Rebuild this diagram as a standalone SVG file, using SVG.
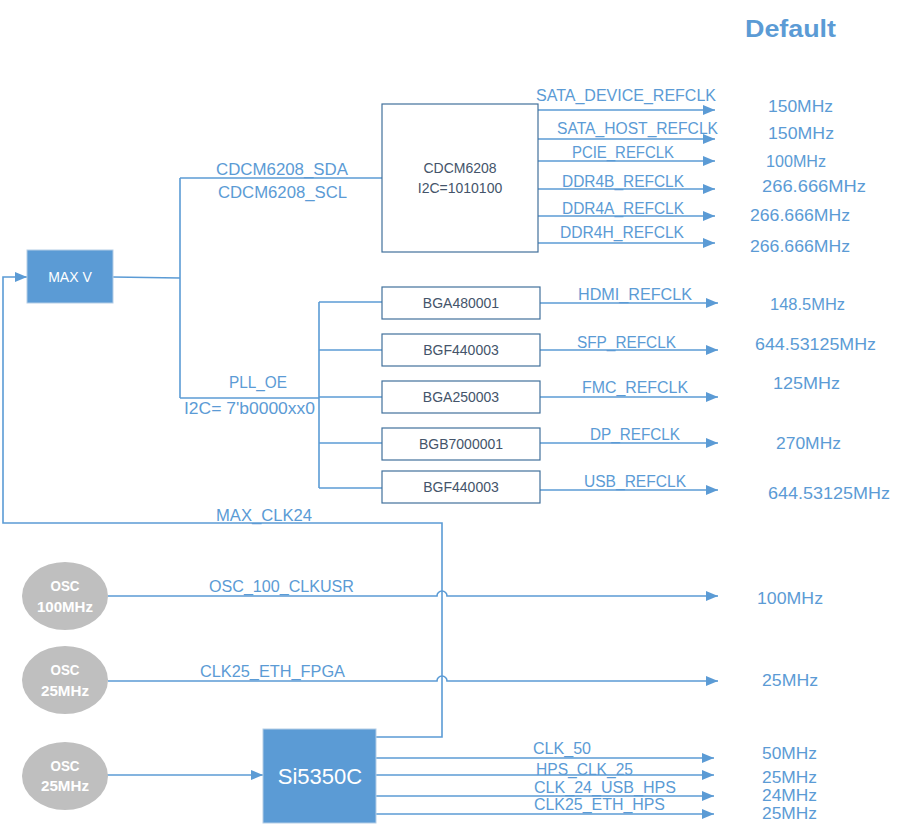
<svg xmlns="http://www.w3.org/2000/svg" width="902" height="836" viewBox="0 0 902 836">
<style>
.c{fill:none;stroke:#5B9BD5;stroke-width:1.6}
.box{fill:#fff;stroke:#41719C;stroke-width:1.2}
.fbox{fill:#5B9BD5;stroke:#B4CDE6;stroke-width:1}
.lbl{font-family:"Liberation Sans",Arial,sans-serif;font-size:16px;fill:#5B9BD5}
.frq{font-family:"Liberation Sans",Arial,sans-serif;font-size:16px;fill:#5B9BD5}
.bt{font-family:"Liberation Sans",Arial,sans-serif;font-size:14px;fill:#44546A;text-anchor:middle}
.wt{font-family:"Liberation Sans",Arial,sans-serif;fill:#fff;text-anchor:middle}
.ot{font-family:"Liberation Sans",Arial,sans-serif;font-size:15px;font-weight:bold;fill:#fff;text-anchor:middle}
</style>
<defs>
<marker id="ah" markerUnits="userSpaceOnUse" markerWidth="13" markerHeight="11" refX="12" refY="5" orient="auto">
<path d="M0,0 L12,5 L0,10 z" fill="#5B9BD5"/>
</marker>
</defs>
<rect width="902" height="836" fill="#fff"/>
<text x="745" y="37" font-family="Liberation Sans,Arial,sans-serif" font-size="24" font-weight="bold" fill="#5B9BD5" textLength="91" lengthAdjust="spacingAndGlyphs">Default</text>

<g id="connectors">
<path class="c" d="M113,277 L180,278"/>
<path class="c" d="M180,178 L180,398"/>
<path class="c" d="M180,178 L382,178"/>
<path class="c" d="M180,398 L319,398"/>
<path class="c" d="M319,302 L319,488"/>
<path class="c" d="M319,302 L382,302"/>
<path class="c" d="M319,350 L382,350"/>
<path class="c" d="M319,397 L382,397"/>
<path class="c" d="M319,443 L382,443"/>
<path class="c" d="M319,488 L382,488"/>
<path class="c" marker-end="url(#ah)" d="M538,110 L715,110"/>
<path class="c" marker-end="url(#ah)" d="M538,139 L715,139"/>
<path class="c" marker-end="url(#ah)" d="M538,161 L715,161"/>
<path class="c" marker-end="url(#ah)" d="M538,189 L715,189"/>
<path class="c" marker-end="url(#ah)" d="M538,216 L715,216"/>
<path class="c" marker-end="url(#ah)" d="M538,243 L715,243"/>
<path class="c" marker-end="url(#ah)" d="M540,303 L718,303"/>
<path class="c" marker-end="url(#ah)" d="M540,350 L718,350"/>
<path class="c" marker-end="url(#ah)" d="M540,397 L718,397"/>
<path class="c" marker-end="url(#ah)" d="M540,443 L718,443"/>
<path class="c" marker-end="url(#ah)" d="M540,490 L718,490"/>
<path class="c" marker-end="url(#ah)" d="M376,737 L442,737 L442,523 L3,523 L3,277 L27,277"/>
<path class="c" marker-end="url(#ah)" d="M108,596 L437,596 A5,5 0 0 1 447,596 L718,596"/>
<path class="c" marker-end="url(#ah)" d="M108,681 L437,681 A5,5 0 0 1 447,681 L718,681"/>
<path class="c" marker-end="url(#ah)" d="M107,775 L263,775"/>
<path class="c" marker-end="url(#ah)" d="M376,758 L714,758"/>
<path class="c" marker-end="url(#ah)" d="M376,775 L714,775"/>
<path class="c" marker-end="url(#ah)" d="M376,796 L714,796"/>
<path class="c" marker-end="url(#ah)" d="M376,814 L714,814"/>
</g>

<g id="labels">
<text class="lbl" x="216" y="175" textLength="132" lengthAdjust="spacingAndGlyphs">CDCM6208_SDA</text>
<text class="lbl" x="218" y="198" textLength="129" lengthAdjust="spacingAndGlyphs">CDCM6208_SCL</text>
<text class="lbl" x="229" y="388" textLength="58" lengthAdjust="spacingAndGlyphs">PLL_OE</text>
<text class="lbl" x="184" y="414" textLength="131" lengthAdjust="spacingAndGlyphs">I2C= 7'b0000xx0</text>
<text class="lbl" x="536" y="101" textLength="180" lengthAdjust="spacingAndGlyphs">SATA_DEVICE_REFCLK</text>
<text class="lbl" x="557" y="134" textLength="161" lengthAdjust="spacingAndGlyphs">SATA_HOST_REFCLK</text>
<text class="lbl" x="572" y="158" textLength="102" lengthAdjust="spacingAndGlyphs">PCIE_REFCLK</text>
<text class="lbl" x="562" y="187" textLength="122" lengthAdjust="spacingAndGlyphs">DDR4B_REFCLK</text>
<text class="lbl" x="562" y="214" textLength="122" lengthAdjust="spacingAndGlyphs">DDR4A_REFCLK</text>
<text class="lbl" x="560" y="238" textLength="124" lengthAdjust="spacingAndGlyphs">DDR4H_REFCLK</text>
<text class="lbl" x="578" y="300" textLength="114" lengthAdjust="spacingAndGlyphs">HDMI_REFCLK</text>
<text class="lbl" x="577" y="348" textLength="99" lengthAdjust="spacingAndGlyphs">SFP_REFCLK</text>
<text class="lbl" x="582" y="393" textLength="106" lengthAdjust="spacingAndGlyphs">FMC_REFCLK</text>
<text class="lbl" x="590" y="440" textLength="90" lengthAdjust="spacingAndGlyphs">DP_REFCLK</text>
<text class="lbl" x="584" y="487" textLength="102" lengthAdjust="spacingAndGlyphs">USB_REFCLK</text>
<text class="lbl" x="216" y="521" textLength="96" lengthAdjust="spacingAndGlyphs">MAX_CLK24</text>
<text class="lbl" x="209" y="592" textLength="145" lengthAdjust="spacingAndGlyphs">OSC_100_CLKUSR</text>
<text class="lbl" x="200" y="677" textLength="145" lengthAdjust="spacingAndGlyphs">CLK25_ETH_FPGA</text>
<text class="lbl" x="533" y="754" textLength="58" lengthAdjust="spacingAndGlyphs">CLK_50</text>
<text class="lbl" x="536" y="775" textLength="97" lengthAdjust="spacingAndGlyphs">HPS_CLK_25</text>
<text class="lbl" x="534" y="793" textLength="142" lengthAdjust="spacingAndGlyphs">CLK_24_USB_HPS</text>
<text class="lbl" x="534" y="810" textLength="131" lengthAdjust="spacingAndGlyphs">CLK25_ETH_HPS</text>

<text class="frq" x="768" y="112" textLength="65" lengthAdjust="spacingAndGlyphs">150MHz</text>
<text class="frq" x="768" y="139" textLength="66" lengthAdjust="spacingAndGlyphs">150MHz</text>
<text class="frq" x="766" y="167" textLength="60" lengthAdjust="spacingAndGlyphs">100MHz</text>
<text class="frq" x="762" y="192" textLength="104" lengthAdjust="spacingAndGlyphs">266.666MHz</text>
<text class="frq" x="750" y="221" textLength="100" lengthAdjust="spacingAndGlyphs">266.666MHz</text>
<text class="frq" x="750" y="252" textLength="100" lengthAdjust="spacingAndGlyphs">266.666MHz</text>
<text class="frq" x="770" y="310" textLength="75" lengthAdjust="spacingAndGlyphs">148.5MHz</text>
<text class="frq" x="755" y="350" textLength="121" lengthAdjust="spacingAndGlyphs">644.53125MHz</text>
<text class="frq" x="773" y="389" textLength="67" lengthAdjust="spacingAndGlyphs">125MHz</text>
<text class="frq" x="776" y="449" textLength="65" lengthAdjust="spacingAndGlyphs">270MHz</text>
<text class="frq" x="768" y="499" textLength="122" lengthAdjust="spacingAndGlyphs">644.53125MHz</text>
<text class="frq" x="757" y="604" textLength="66" lengthAdjust="spacingAndGlyphs">100MHz</text>
<text class="frq" x="762" y="686" textLength="56" lengthAdjust="spacingAndGlyphs">25MHz</text>
<text class="frq" x="762" y="759" textLength="55" lengthAdjust="spacingAndGlyphs">50MHz</text>
<text class="frq" x="762" y="783" textLength="55" lengthAdjust="spacingAndGlyphs">25MHz</text>
<text class="frq" x="762" y="801" textLength="55" lengthAdjust="spacingAndGlyphs">24MHz</text>
<text class="frq" x="762" y="819" textLength="55" lengthAdjust="spacingAndGlyphs">25MHz</text>
</g>

<g id="maxv">
<rect class="fbox" x="27" y="250" width="86" height="53"/>
<text class="wt" x="70" y="282" font-size="14">MAX V</text>
</g>
<g id="cdcm6208">
<rect class="box" x="382" y="104" width="156" height="148"/>
<text class="bt" x="460" y="173">CDCM6208</text>
<text class="bt" x="460" y="193">I2C=1010100</text>
</g>
<g id="bga480001">
<rect class="box" x="382" y="287" width="158" height="32"/>
<text class="bt" x="461" y="308">BGA480001</text>
</g>
<g id="bgf440003a">
<rect class="box" x="382" y="334" width="158" height="32"/>
<text class="bt" x="461" y="355">BGF440003</text>
</g>
<g id="bga250003">
<rect class="box" x="382" y="381" width="158" height="32"/>
<text class="bt" x="461" y="402">BGA250003</text>
</g>
<g id="bgb7000001">
<rect class="box" x="382" y="428" width="158" height="32"/>
<text class="bt" x="461" y="449">BGB7000001</text>
</g>
<g id="bgf440003b">
<rect class="box" x="382" y="471" width="158" height="32"/>
<text class="bt" x="461" y="492">BGF440003</text>
</g>
<g id="osc100">
<ellipse cx="65" cy="596" rx="43" ry="34" fill="#BFBFBF"/>
<text class="ot" x="65" y="591" textLength="29" lengthAdjust="spacingAndGlyphs">OSC</text>
<text class="ot" x="65" y="612" textLength="56" lengthAdjust="spacingAndGlyphs">100MHz</text>
</g>
<g id="osc25a">
<ellipse cx="65" cy="680" rx="43" ry="34" fill="#BFBFBF"/>
<text class="ot" x="65" y="675" textLength="29" lengthAdjust="spacingAndGlyphs">OSC</text>
<text class="ot" x="65" y="696" textLength="48" lengthAdjust="spacingAndGlyphs">25MHz</text>
</g>
<g id="osc25b">
<ellipse cx="65" cy="776" rx="43" ry="34" fill="#BFBFBF"/>
<text class="ot" x="65" y="771" textLength="29" lengthAdjust="spacingAndGlyphs">OSC</text>
<text class="ot" x="65" y="791" textLength="48" lengthAdjust="spacingAndGlyphs">25MHz</text>
</g>
<g id="si5350c">
<rect class="fbox" x="263" y="729" width="113" height="94"/>
<text class="wt" x="320" y="784" font-size="22">Si5350C</text>
</g>
</svg>
